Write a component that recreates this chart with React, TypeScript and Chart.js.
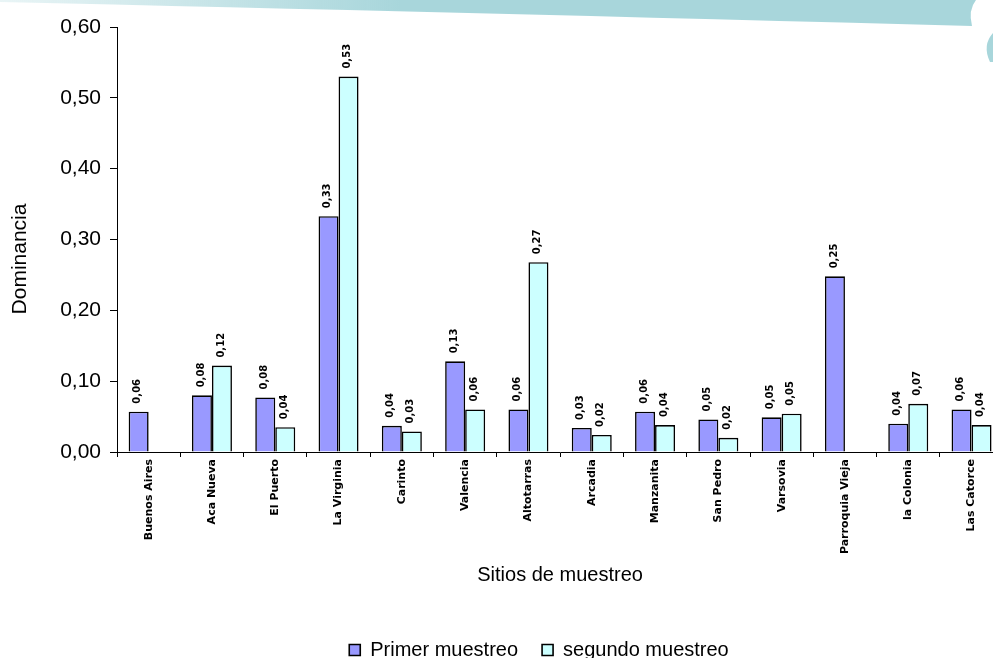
import React, { useEffect, useRef } from "react";
import { Chart, registerables } from "chart.js";

Chart.register(...registerables);

const categories = [
  "Buenos Aires",
  "Aca Nueva",
  "El Puerto",
  "La Virginia",
  "Carinto",
  "Valencia",
  "Altotarras",
  "Arcadia",
  "Manzanita",
  "San Pedro",
  "Varsovia",
  "Parroquia Vieja",
  "la Colonia",
  "Las Catorce",
];

const primerMuestreo = [0.057, 0.08, 0.077, 0.333, 0.037, 0.128, 0.06, 0.034, 0.057, 0.046, 0.049, 0.248, 0.04, 0.06];
const segundoMuestreo = [null, 0.122, 0.035, 0.53, 0.029, 0.06, 0.268, 0.024, 0.038, 0.02, 0.054, null, 0.068, 0.038];

const yTicks = [0, 0.1, 0.2, 0.3, 0.4, 0.5, 0.6];

const yTitle = "Dominancia";
const xTitle = "Sitios de muestreo";

const fmt = (v: number) => v.toFixed(2).replace(".", ",");

const CANVAS_W = 1078;
const CANVAS_H = 670;

const decorPlugin = {
  id: "decor",
  beforeDraw(chart: any) {
    const ctx = chart.ctx;
    ctx.save();
    const grad = ctx.createLinearGradient(0, 0, 400, 0);
    grad.addColorStop(0, "rgba(168,214,219,0.25)");
    grad.addColorStop(1, "rgba(168,214,219,1)");
    ctx.fillStyle = grad;
    ctx.beginPath();
    ctx.moveTo(0, 0);
    ctx.lineTo(0, 2);
    ctx.quadraticCurveTo(450, 12, 972, 26);
    ctx.quadraticCurveTo(968, 10, 976, 0);
    ctx.closePath();
    ctx.fill();
    ctx.fillStyle = "rgba(168,214,219,1)";
    ctx.beginPath();
    ctx.moveTo(993, 33);
    ctx.quadraticCurveTo(982, 45, 990, 62);
    ctx.lineTo(993, 62);
    ctx.closePath();
    ctx.fill();
    ctx.restore();
  },
  afterDraw(chart: any) {
    const ctx = chart.ctx;
    ctx.save();
    ctx.translate(20, 259);
    ctx.rotate(-Math.PI / 2);
    ctx.font = "21px Arial, 'Liberation Sans'";
    ctx.textAlign = "center";
    ctx.textBaseline = "middle";
    ctx.fillStyle = "#000";
    ctx.fillText(yTitle, 0, 0);
    ctx.restore();
  },
};

const valueLabelPlugin = {
  id: "valueLabels",
  afterDatasetsDraw(chart: any) {
    const ctx = chart.ctx;
    chart.data.datasets.forEach((ds: any, i: number) => {
      const meta = chart.getDatasetMeta(i);
      meta.data.forEach((el: any, j: number) => {
        const v = ds.data[j];
        if (v == null) return;
        ctx.save();
        ctx.translate(el.x - 1, el.y - 8);
        ctx.rotate(-Math.PI / 2);
        ctx.font = 'bold 10px "DejaVu Sans"';
        ctx.textAlign = "left";
        ctx.textBaseline = "middle";
        ctx.fillStyle = "#000";
        ctx.fillText(fmt(v), 0, 0);
        ctx.restore();
      });
    });
  },
};

export default function App() {
  const ref = useRef<HTMLCanvasElement | null>(null);

  useEffect(() => {
    if (!ref.current) return;
    const chart = new Chart(ref.current, {
      type: "bar",
      data: {
        labels: categories,
        datasets: [
          {
            label: "Primer muestreo",
            data: primerMuestreo,
            backgroundColor: "#9999FF",
            borderColor: "#000000",
            borderWidth: 1.6,
            categoryPercentage: 0.632,
            barPercentage: 1,
          },
          {
            label: "segundo muestreo",
            data: segundoMuestreo as any,
            backgroundColor: "#CCFFFF",
            borderColor: "#000000",
            borderWidth: 1.6,
            categoryPercentage: 0.632,
            barPercentage: 1,
          },
        ],
      },
      options: {
        responsive: false,
        animation: false,
        layout: { padding: { top: 27, right: 0, left: 0, bottom: 0 } },
        plugins: {
          tooltip: { enabled: false },
          legend: {
            position: "bottom",
            labels: {
              color: "#000",
              font: { family: "Arial, 'Liberation Sans'", size: 20 },
              boxWidth: 11,
              boxHeight: 11,
              padding: 24,
            },
          },
        },
        scales: {
          x: {
            afterFit: (s: any) => {
              s.height = 164;
            },
            border: { color: "#000", width: 1 },
            grid: { display: true, drawOnChartArea: false, drawTicks: true, tickLength: 5, color: "#000", offset: true },
            ticks: {
              autoSkip: false,
              maxRotation: 90,
              minRotation: 90,
              padding: 2,
              color: "#000",
              font: { family: "'DejaVu Sans'", size: 11, weight: "bold" },
            },
            title: {
              display: true,
              text: xTitle,
              color: "#000",
              font: { family: "Arial, 'Liberation Sans'", size: 20 },
              padding: { top: 0, bottom: 29 },
            },
          },
          y: {
            min: 0,
            max: 0.6,
            afterFit: (s: any) => {
              s.width = 117;
            },
            afterBuildTicks: (s: any) => {
              s.ticks = yTicks.map((v) => ({ value: v }));
            },
            border: { color: "#000", width: 1 },
            grid: { display: true, drawOnChartArea: false, drawTicks: true, tickLength: 7, color: "#000" },
            ticks: {
              padding: 9,
              color: "#000",
              font: { family: "Arial, 'Liberation Sans'", size: 21 },
              callback: (v: any) => fmt(Number(v)),
            },
            title: { display: false },
          },
          spacer: {
            type: "linear",
            position: "right",
            display: true,
            afterFit: (s: any) => {
              s.width = 74.8;
            },
            grid: { display: false, drawTicks: false },
            border: { display: false },
            ticks: { display: false },
          },
        },
      },
      plugins: [decorPlugin, valueLabelPlugin],
    });
    return () => chart.destroy();
  }, []);

  return (
    <div
      style={{
        position: "fixed",
        left: 0,
        top: 0,
        width: 993,
        height: 658,
        overflow: "hidden",
        background: "#fff",
      }}
    >
      <canvas ref={ref} width={CANVAS_W} height={CANVAS_H} style={{ width: CANVAS_W, height: CANVAS_H, display: "block" }} />
    </div>
  );
}
